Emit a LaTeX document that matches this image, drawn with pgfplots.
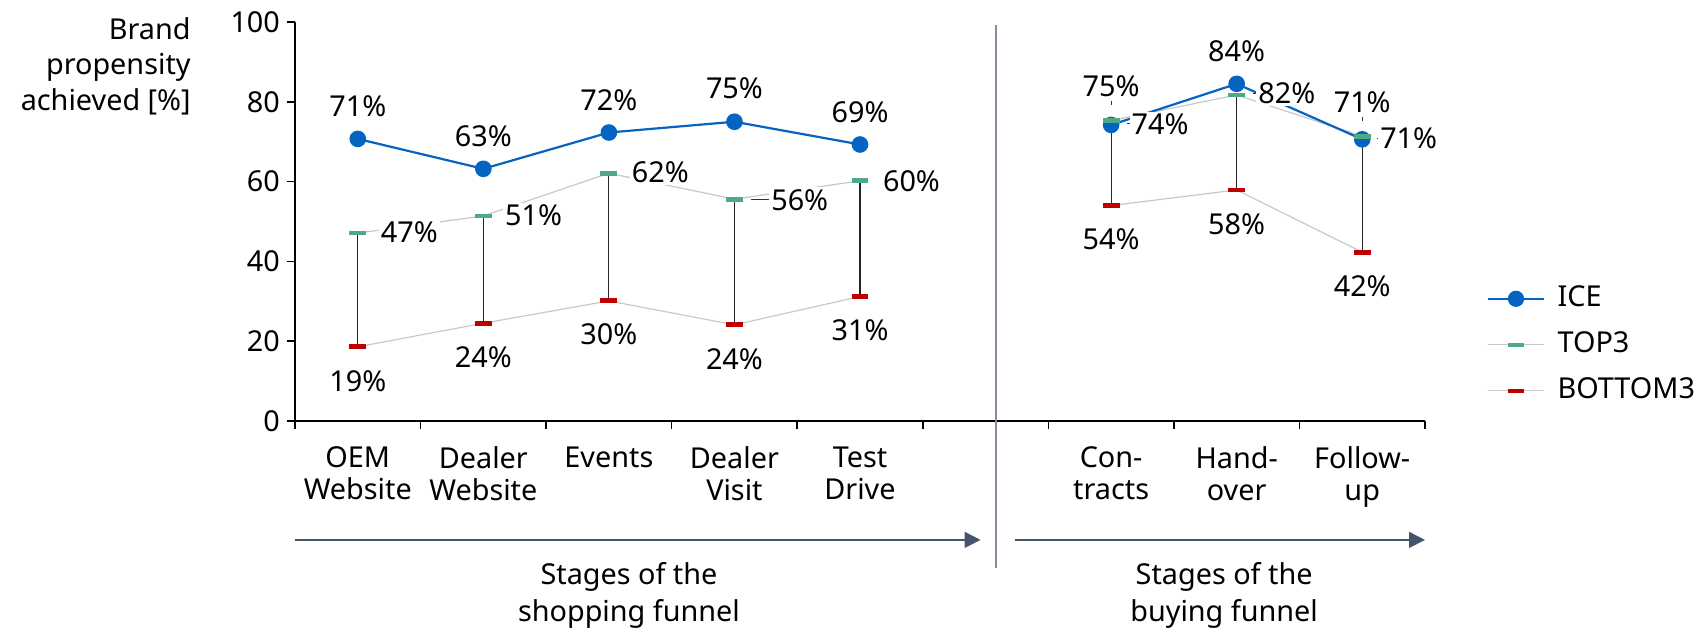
\documentclass[border=0pt]{standalone}
\usepackage{pgfplots}
\pgfplotsset{compat=1.18}
\usepackage{fontspec}
\setmainfont{Noto Sans}
\usetikzlibrary{arrows.meta}
\definecolor{iceblue}{HTML}{0563C1}
\definecolor{topgreen}{HTML}{4EAA86}
\definecolor{botred}{HTML}{C00000}
\definecolor{lgray}{HTML}{C8C8C8}
\definecolor{slate}{HTML}{44546A}
\definecolor{divcol}{HTML}{858E9E}
\newcommand{\fs}{\fontsize{14.4}{17}\selectfont}
\begin{document}
\begin{tikzpicture}[font=\fs,
  lbl/.style={fill=white, inner sep=1pt, font=\fs}]
\useasboundingbox (-147.5pt,-104.5pt) rectangle (705.5pt,210.5pt);
\begin{axis}[
  at={(0,0)}, anchor=south west,
  scale only axis, width=565pt, height=199.5pt,
  xmin=-0.5, xmax=8.5, ymin=0, ymax=100,
  axis lines=left, axis line style={-, line width=0.8pt, black},
  clip=false,
  unbounded coords=jump,
  tick align=outside,
  ytick={0,20,40,60,80,100},
  major tick length=4pt, minor tick length=4pt,
  xtick={0,1,2,3,4,5,6,7,8},
  xticklabels={{OEM\\Website},{Dealer\\Website},{Events},{Dealer\\Visit},{Test\\Drive},{},{Con-\\tracts},{Hand-\\over},{Follow-\\up}},
  minor xtick={-0.5,0.5,1.5,2.5,3.5,4.5,5.5,6.5,7.5,8.5},
  tick style={black, line width=0.8pt},
  major x tick style={draw=none},
  xticklabel style={align=center, yshift=-5.5pt, font=\fontsize{14.4}{16}\selectfont},
  yticklabel style={font=\fs},
  /pgf/number format/assume math mode=true,
  legend style={at={(1.054,0.191)}, anchor=west, draw=none, fill=none, inner sep=0pt,
    nodes={inner sep=0pt, text height=10pt, text depth=2pt, font=\fs},
    row sep=11pt, column sep=6pt},
  legend cell align=left,
  legend image code/.code={\draw[mark repeat=2,mark phase=2,#1] plot coordinates {(0cm,0cm) (0.5cm,0cm) (1cm,0cm)};},
]
% connecting gray lines
\addplot[lgray, line width=0.6pt, forget plot] coordinates {(0,47.1)(1,51.4)(2,62.1)(3,55.6)(4,60.2)(5,nan)(6,75.3)(7,81.7)(8,71.4)};
\addplot[lgray, line width=0.6pt, forget plot] coordinates {(0,18.6)(1,24.5)(2,30.1)(3,24.1)(4,31.2)(5,nan)(6,54.0)(7,57.9)(8,42.3)};
% ICE
\addplot[iceblue, line width=1.1pt, mark=*, mark size=3.6pt, mark options={fill=iceblue, draw=iceblue}, forget plot] coordinates {(0,70.7)(1,63.2)(2,72.3)(3,75.0)(4,69.3)(5,nan)(6,74.2)(7,84.5)(8,70.6)};
% high-low lines
\addplot[black!85, line width=0.6pt, forget plot] coordinates {(0,47.1)(0,18.6)(0,nan)(1,51.4)(1,24.5)(1,nan)(2,62.1)(2,30.1)(2,nan)(3,55.6)(3,24.1)(3,nan)(4,60.2)(4,31.2)(4,nan)(6,75.3)(6,54.0)(6,nan)(7,81.7)(7,57.9)(7,nan)(8,71.4)(8,42.3)};
% markers
\addplot[only marks, mark=-, mark size=4.2pt, mark options={topgreen, line width=2.4pt}, forget plot] coordinates {(0,47.1)(1,51.4)(2,62.1)(3,55.6)(4,60.2)(6,75.3)(7,81.7)(8,71.4)};
\addplot[only marks, mark=-, mark size=4.2pt, mark options={botred, line width=2.4pt}, forget plot] coordinates {(0,18.6)(1,24.5)(2,30.1)(3,24.1)(4,31.2)(6,54.0)(7,57.9)(8,42.3)};
% legend
\addlegendimage{iceblue, line width=1.1pt, mark=*, mark size=3.5pt, mark options={fill=iceblue, draw=iceblue}}
\addlegendentry{ICE}
\addlegendimage{lgray, line width=0.6pt, mark=-, mark size=4pt, mark options={topgreen, line width=2pt}}
\addlegendentry{TOP3}
\addlegendimage{lgray, line width=0.6pt, mark=-, mark size=4pt, mark options={botred, line width=2pt}}
\addlegendentry{BOTTOM3}
% leader lines
\draw[black!80, line width=0.5pt] (axis cs:3.13,55.4) -- (axis cs:3.28,55.4);
\draw[black!80, line width=0.5pt] (axis cs:6.124,74.5) -- (axis cs:6.156,74.5);
\draw[black!80, line width=0.5pt] (axis cs:7.13,82.1) -- (axis cs:7.16,82.1);
\draw[black!80, line width=0.5pt] (axis cs:8.115,70.9) -- (axis cs:8.155,70.9);
\draw[black!80, line width=0.5pt] (axis cs:6,79.2) -- (axis cs:6,80.2);
\draw[black!80, line width=0.5pt] (axis cs:8,75.3) -- (axis cs:8,76.3);
% ICE labels
\node[lbl] at (axis cs:0,79.0) {71\%};
\node[lbl] at (axis cs:1,71.4) {63\%};
\node[lbl] at (axis cs:2,80.5) {72\%};
\node[lbl] at (axis cs:3,83.4) {75\%};
\node[lbl] at (axis cs:4,77.5) {69\%};
\node[lbl] at (axis cs:6,84.0) {75\%};
\node[lbl] at (axis cs:7,92.6) {84\%};
\node[lbl] at (axis cs:8,79.8) {71\%};
% TOP3 labels
\node[lbl] at (axis cs:0.41,47.4) {47\%};
\node[lbl] at (axis cs:1.40,51.6) {51\%};
\node[lbl] at (axis cs:2.41,62.3) {62\%};
\node[lbl] at (axis cs:3.52,55.4) {56\%};
\node[lbl] at (axis cs:4.41,60.0) {60\%};
\node[lbl] at (axis cs:6.39,74.4) {74\%};
\node[lbl] at (axis cs:7.40,82.1) {82\%};
\node[lbl] at (axis cs:8.37,70.9) {71\%};
% BOTTOM3 labels
\node[lbl] at (axis cs:0,10.0) {19\%};
\node[lbl] at (axis cs:1,15.9) {24\%};
\node[lbl] at (axis cs:2,21.7) {30\%};
\node[lbl] at (axis cs:3,15.5) {24\%};
\node[lbl] at (axis cs:4,22.8) {31\%};
\node[lbl] at (axis cs:6,45.5) {54\%};
\node[lbl] at (axis cs:7,49.4) {58\%};
\node[lbl] at (axis cs:8,33.7) {42\%};
% divider and funnel arrows
\draw[divcol, line width=1pt] (axis cs:5.08,99.3) -- (axis cs:5.08,-36.8);
\draw[slate, line width=0.8pt, -{Triangle[length=8pt,width=8pt]}] (axis cs:-0.5,-29.8) -- (axis cs:4.96,-29.8);
\draw[slate, line width=0.8pt, -{Triangle[length=8pt,width=8pt]}] (axis cs:5.234,-29.8) -- (axis cs:8.5,-29.8);
\node[align=center, anchor=north, inner sep=0pt, font=\fontsize{14.4}{18.5}\selectfont] at (axis cs:2.16,-35.3) {Stages of the\\shopping funnel};
\node[align=center, anchor=north, inner sep=0pt, font=\fontsize{14.4}{18.5}\selectfont] at (axis cs:6.90,-35.3) {Stages of the\\buying funnel};
% y label
\node[anchor=north east, align=right, inner sep=0pt, xshift=-52pt, yshift=2.5pt, font=\fontsize{14.4}{17.75}\selectfont] at (rel axis cs:0,1) {Brand\\propensity\\achieved [\%]};
\end{axis}
\end{tikzpicture}
\end{document}
